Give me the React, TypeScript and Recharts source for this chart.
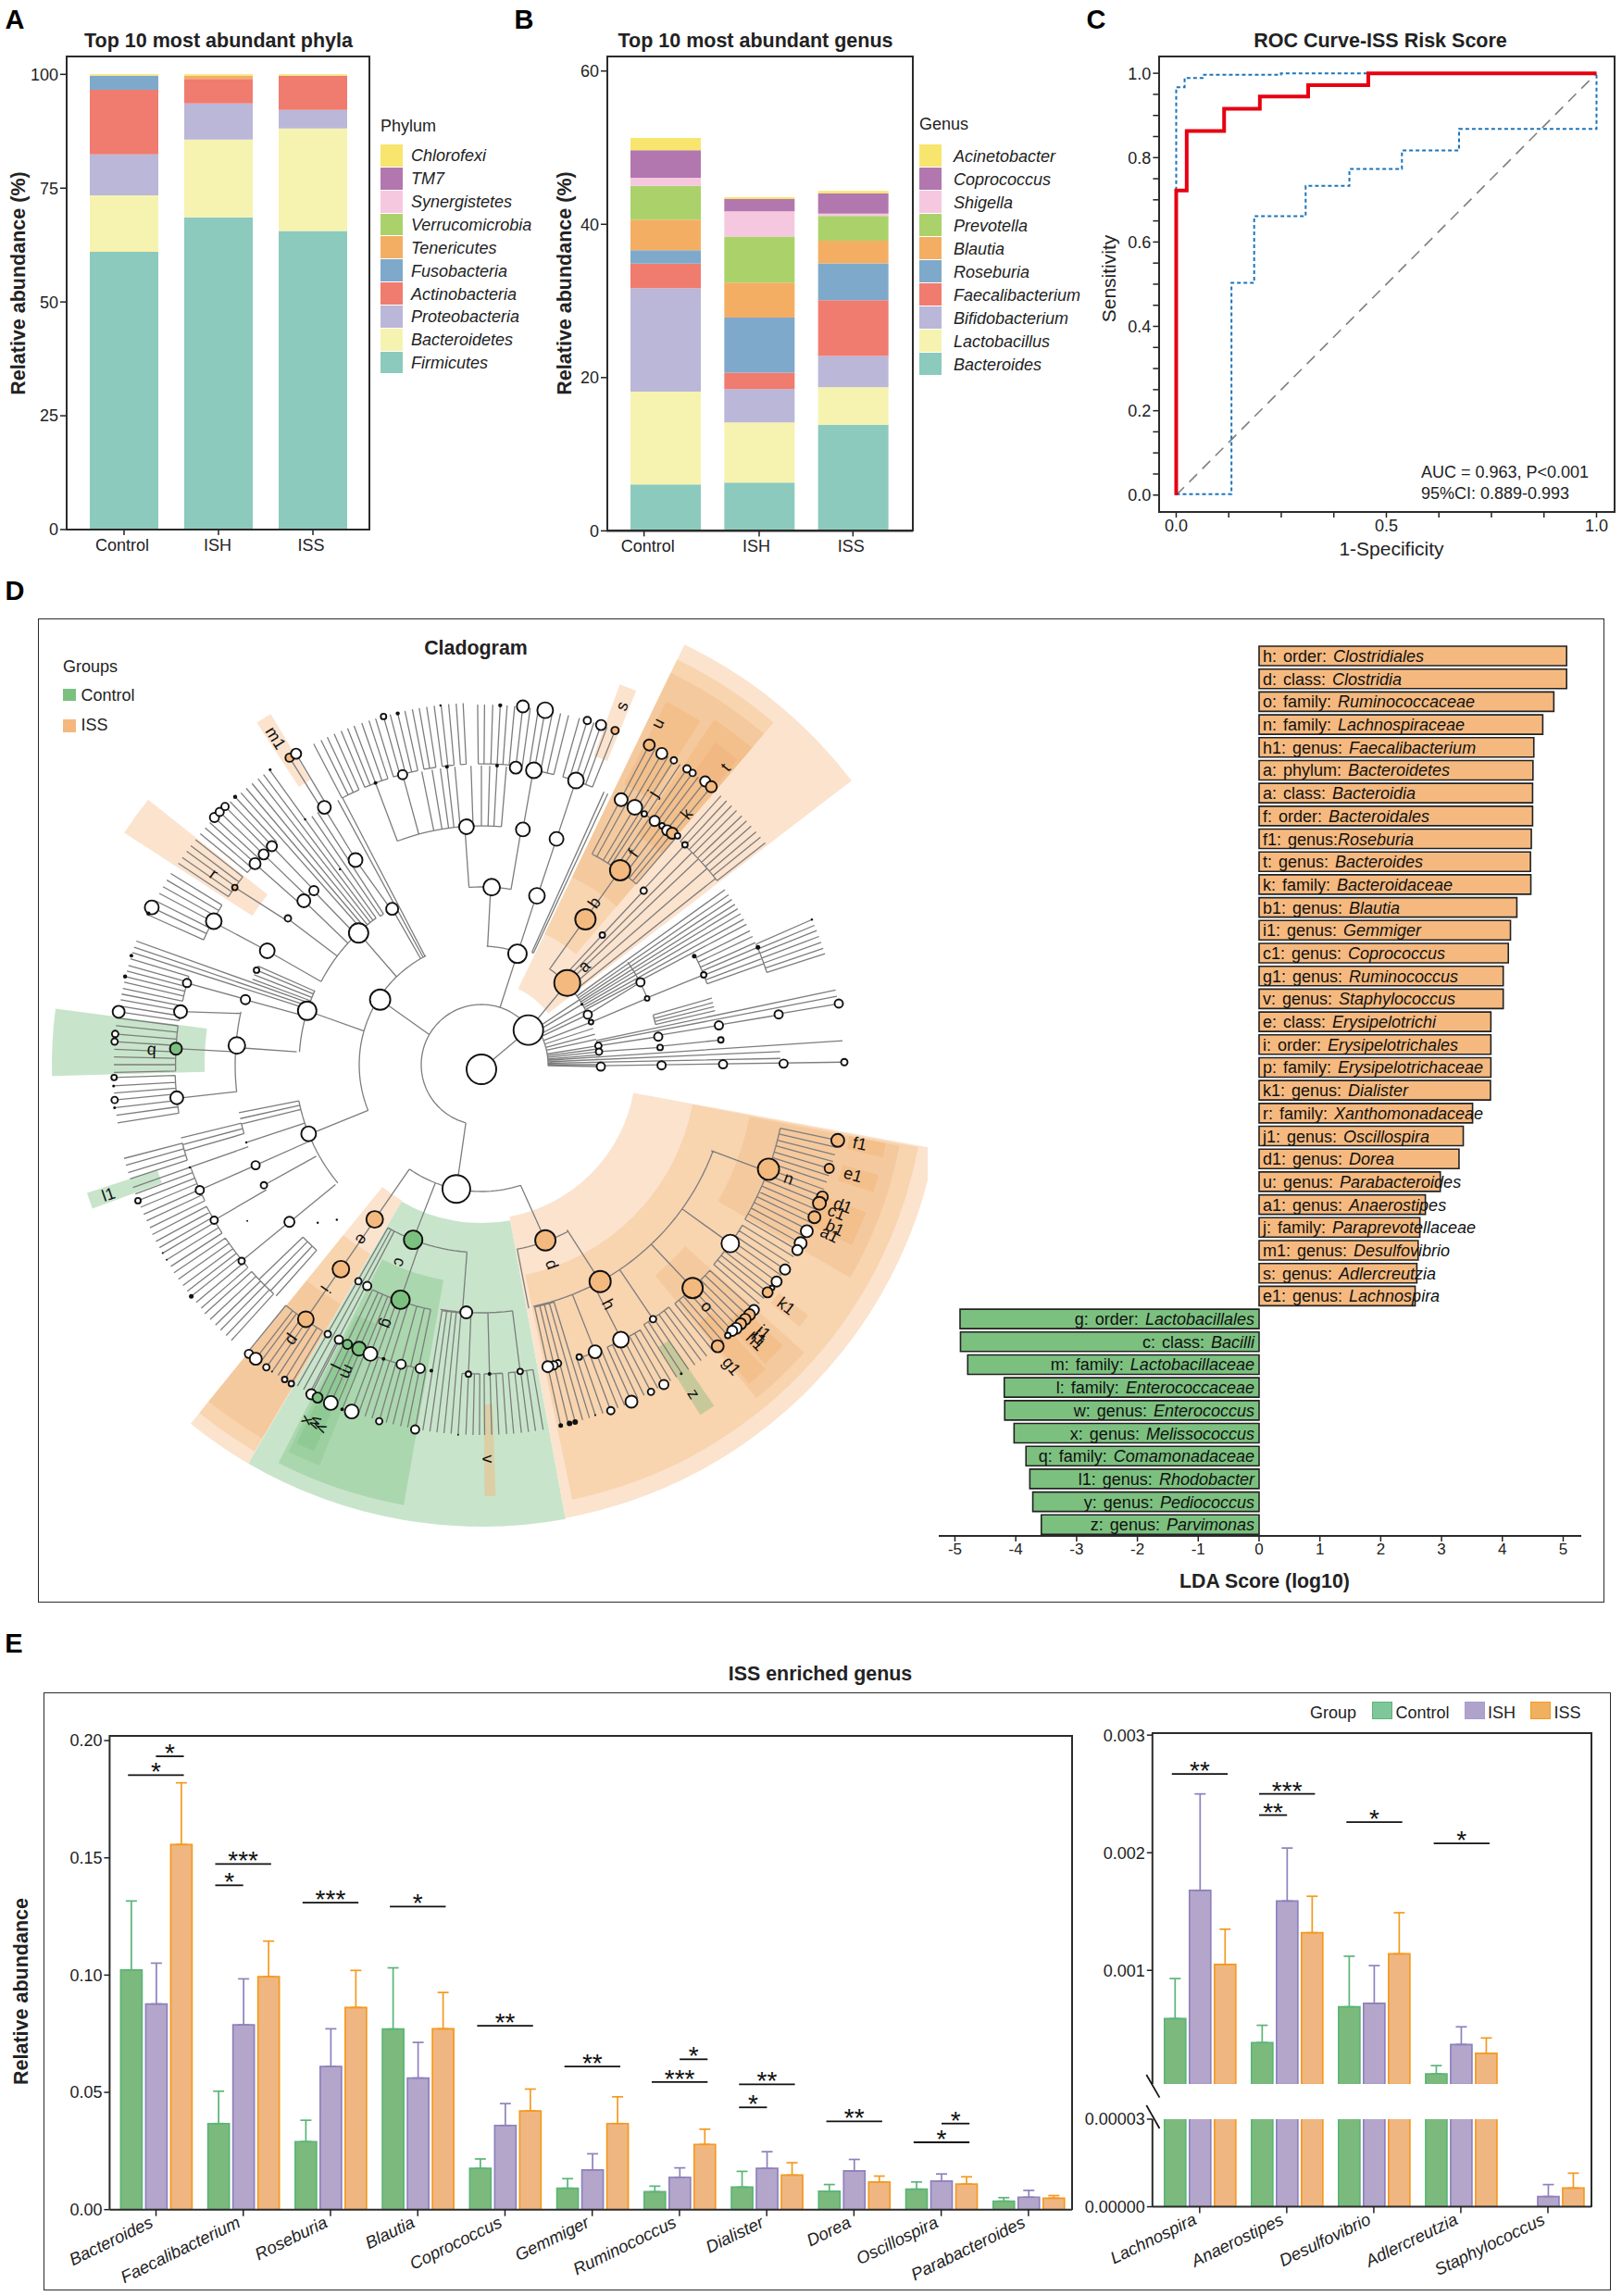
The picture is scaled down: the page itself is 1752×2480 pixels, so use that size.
import {
  BarChart, Bar, XAxis, YAxis, LineChart, Line, ComposedChart, Scatter, PieChart, Pie, Cell,
  ErrorBar, ReferenceLine,
} from 'recharts';

const FONT = '"Liberation Sans", Arial, sans-serif';
const INK = '#222';

// ---- A: phyla
const groups = ['Control', 'ISH', 'ISS'];
const phylaNames = ['Chlorofexi', 'TM7', 'Synergistetes', 'Verrucomicrobia', 'Tenericutes', 'Fusobacteria', 'Actinobacteria', 'Proteobacteria', 'Bacteroidetes', 'Firmicutes'];
const stackColors = ['#F7E56E', '#B277AE', '#F5C8DF', '#ABD26A', '#F4AE63', '#7FA9CB', '#EF7C6F', '#BAB7D8', '#F6F3B0', '#8CCABD'];
const phylaValues = [
  [0.3, 0.3, 0.3], [0, 0, 0], [0, 0, 0], [0, 0, 0], [0, 0.7, 0], [3.1, 0, 0],
  [14.2, 5.4, 7.5], [9, 7.9, 4.1], [12.4, 17.1, 22.5], [61, 68.6, 65.6],
];

// ---- B: genus
const genusNames = ['Acinetobacter', 'Coprococcus', 'Shigella', 'Prevotella', 'Blautia', 'Roseburia', 'Faecalibacterium', 'Bifidobacterium', 'Lactobacillus', 'Bacteroides'];
const genusValues = [
  [1.6, 0.25, 0.3], [3.6, 1.6, 2.65], [1.05, 3.3, 0.3], [4.4, 6, 3.25], [4, 4.55, 2.96],
  [1.75, 7.2, 4.8], [3.2, 2.15, 7.26], [13.5, 4.35, 4.1], [12.1, 7.84, 4.87], [6.07, 6.3, 13.86],
];

// ---- C: ROC
const rocCurve = [[0, 0], [0, 0.722], [0.025, 0.722], [0.025, 0.863], [0.114, 0.863], [0.114, 0.916], [0.199, 0.916], [0.199, 0.945], [0.314, 0.945], [0.314, 0.972], [0.457, 0.972], [0.457, 1], [1, 1]];
const rocUpper = [[0, 0], [0, 0.967], [0.02, 0.967], [0.02, 0.989], [0.063, 0.989], [0.063, 0.9965], [0.249, 0.9965], [0.249, 1], [1, 1]];
const rocLower = [[0, 0.002], [0.1315, 0.002], [0.1315, 0.503], [0.1855, 0.503], [0.1855, 0.661], [0.308, 0.661], [0.308, 0.733], [0.412, 0.733], [0.412, 0.773], [0.537, 0.773], [0.537, 0.817], [0.673, 0.817], [0.673, 0.868], [1, 0.868], [1, 1]];
const rocChance = [[0, 0], [1, 1]];
const rocTicksX = [0, 0.125, 0.25, 0.375, 0.5, 0.625, 0.75, 0.875, 1];
const rocTicksY = [0, 0.05, 0.1, 0.15, 0.2, 0.25, 0.3, 0.35, 0.4, 0.45, 0.5, 0.55, 0.6, 0.65, 0.7, 0.75, 0.8, 0.85, 0.9, 0.95, 1];

// ---- D: LDA
const ldaPrefix = ['h: order:', 'd: class:', 'o: family:', 'n: family:', 'h1: genus:', 'a: phylum:', 'a: class:', 'f: order:', 'f1: genus:', 't: genus:', 'k: family:', 'b1: genus:', 'i1: genus:', 'c1: genus:', 'g1: genus:', 'v: genus:', 'e: class:', 'i: order:', 'p: family:', 'k1: genus:', 'r: family:', 'j1: genus:', 'd1: genus:', 'u: genus:', 'a1: genus:', 'j: family:', 'm1: genus:', 's: genus:', 'e1: genus:', 'g: order:', 'c: class:', 'm: family:', 'l: family:', 'w: genus:', 'x: genus:', 'q: family:', 'l1: genus:', 'y: genus:', 'z: genus:'];
const ldaTaxa = ['Clostridiales', 'Clostridia', 'Ruminococcaceae', 'Lachnospiraceae', 'Faecalibacterium', 'Bacteroidetes', 'Bacteroidia', 'Bacteroidales', 'Roseburia', 'Bacteroides', 'Bacteroidaceae', 'Blautia', 'Gemmiger', 'Coprococcus', 'Ruminococcus', 'Staphylococcus', 'Erysipelotrichi', 'Erysipelotrichales', 'Erysipelotrichaceae', 'Dialister', 'Xanthomonadaceae', 'Oscillospira', 'Dorea', 'Parabacteroides', 'Anaerostipes', 'Paraprevotellaceae', 'Desulfovibrio', 'Adlercreutzia', 'Lachnospira', 'Lactobacillales', 'Bacilli', 'Lactobacillaceae', 'Enterococcaceae', 'Enterococcus', 'Melissococcus', 'Comamonadaceae', 'Rhodobacter', 'Pediococcus', 'Parvimonas'];
const ldaScores = [5.056, 5.056, 4.846, 4.664, 4.517, 4.503, 4.497, 4.497, 4.476, 4.462, 4.468, 4.238, 4.133, 4.098, 4.014, 4.014, 3.811, 3.811, 3.811, 3.804, 3.51, 3.357, 3.287, 2.979, 2.734, 2.643, 2.615, 2.594, 2.566, -4.916, -4.909, -4.79, -4.189, -4.182, -4.028, -3.832, -3.769, -3.72, -3.58];
const ldaTicks = [-5, -4, -3, -2, -1, 0, 1, 2, 3, 4, 5];

// ---- D: cladogram, polar readings [angle from east, radius]
const LIGHT = '#FBE3CE';
const MID = '#F8D4AF';
const DARK = '#F5C99E';
const DEEP = '#F3BF8B';
// [startAngle, endAngle, innerRadius, outerRadius, colour]
const cladeSectors: [number, number, number, number, string][] = [
  [37.5, 64.2, 91, 504, LIGHT], [49.5, 64.2, 157, 486, MID], [49.5, 64.2, 225, 470, DARK],
  [49.5, 56, 300, 450, DEEP], [57.5, 63, 340, 440, DEEP], [50, 54, 385, 430, '#F2B884'],
  [67.5, 70, 355, 437, LIGHT], [121, 123.3, 359, 442, LIGHT], [141.5, 147, 295, 460, LIGHT],
  [172.5, 181.5, 299, 464, '#C8E5CB'], [198, 200.3, 368, 448, '#C8E5CB'],
  [231, 239.7, 170, 499, LIGHT], [231, 239.6, 237, 484, MID], [231, 239.6, 300, 468, DARK],
  [239.7, 280.5, 171, 499, '#C8E5CB'], [243, 260, 236, 483, '#ABD7AE'],
  [243.5, 248, 302, 467, '#9CD0A0'], [244, 246.6, 340, 455, '#8FCA94'], [270.4, 271.9, 367, 466, '#DCCFA5'],
  [280.5, 349.5, 167, 498, LIGHT], [281.8, 349.3, 232, 480, MID],
  [309.5, 318.3, 295, 467, DARK], [330, 349, 295, 460, DARK],
  [310, 313, 365, 450, DEEP], [313.5, 317, 385, 445, DEEP], [320.5, 322.5, 405, 445, DARK],
  [334, 339, 395, 445, DEEP], [342, 344.5, 405, 445, DEEP], [347, 349, 405, 445, DEEP],
  [302, 304.3, 360, 446, '#C8C99A'],
];
// [innerRadius, tipRadius, ...leaf angles]; a short arc joins the leaves at innerRadius
const cladeFans: number[][] = [
  [325, 391, 117.6, 116.3, 115.2, 114], [325, 391, 112.8, 111.7, 110.6, 109.3, 108.1],
  [325, 391, 107, 105.7, 104.6, 103.4, 102.2], [325, 391, 101, 99.9, 98.7], [325, 391, 97.5, 96.4, 95.2], [325, 391, 94, 92.9],
  [325, 389, 90.6, 89.5, 88.2, 87, 85.9, 84.7, 83.4, 82.2], [323, 389, 80.9, 79.8, 78.6, 77.3, 76],
  [323, 389, 74.2, 72.9, 71.8, 70.6, 69.6, 68.2],
  [258, 323, 110.6, 105.2, 101.5, 99.5, 97.9, 96.6, 95.1, 92, 90, 88.4, 87, 85.2],
  [132, 325, 117.5, 118.5], [133, 323, 65, 65.8], [194, 325, 123, 124.3],
  [195, 392, 125.7, 126.9, 128, 129.2, 130.4, 131.5],
  [327, 393, 140.6, 139.4, 138.3, 137.2, 136, 134.8, 133.7, 132.6],
  [328, 393, 146.4, 145.3, 144.1, 143, 141.8],
  [329, 394, 155.8, 154.5, 153.3, 152, 150.8, 149.6, 148.4],
  [261, 327, 138.4, 136, 133.8],
  [197, 396, 160.3, 161.3, 162.2], [197, 264, 156.2, 157.2, 158.4, 159.5],
  [330, 396, 163.2, 164.3, 165.2, 166.1, 167, 168], [330, 396, 168.9, 169.8, 170.8, 171.7],
  [330.4, 397, 172.7, 173.9, 175.2, 176.4, 177.6, 178.8, 180, 181.2],
  [331, 398, 182, 183.3, 184.4, 185.5, 186.7, 187.9, 189.1],
  [201, 267, 191.2, 192.6, 193.9], [267, 334, 193.7, 195, 196.2], [334, 399, 194.7, 195.8, 197, 198],
  [333, 399, 199.4, 200.5, 201.6, 202.7, 203.9, 205, 206.2],
  [334, 400, 207.3, 208.5, 209.6, 210.6, 211.8, 213],
  [334, 401, 214.1, 215.3, 216.5, 217.6, 218.6, 219.8, 221],
  [334, 402, 222, 223.2, 224.4, 225.5, 226.7, 227.8], [268, 334, 224, 225.5, 227, 228.4],
  [335, 401, 230.9, 232.5, 233.4, 234.6, 235.7, 236.8, 238, 239.2],
  [203, 400, 240.2, 241.3, 242.4],
  [270, 335, 244.2, 245.6, 246.7, 248, 249, 250.3, 251.6, 253, 255, 256.8, 258.3],
  [335, 400, 242.7, 243.8, 245, 246, 247, 248, 249.5, 250.6, 251.7, 252.8, 254, 255.1, 256.2, 257.4, 258.5, 259.7],
  [269, 400, 260.9, 262, 263.1, 264.2, 265.3],
  [334, 400, 266.4, 267.6, 268.7, 269.7], [334, 400, 270.5, 271.6, 272.7, 273.9], [334, 400, 275, 276.2, 277.3, 278.4, 279.6],
  [268, 399, 282.4, 283.6, 284.7, 285.9, 287], [334, 399, 288, 289.2, 290.5, 291.7, 292.8],
  [334, 398, 294, 295.1, 296.2, 297.4, 298.6, 299.7, 300.9], [331, 398, 302, 303, 304.2, 305.4, 306.6, 307.7],
  [332, 397, 309, 310, 311.1, 312.3, 313.3, 314.4, 315.5, 316.7, 318],
  [331, 396, 319.3, 320.4, 321.5, 322.5, 323.7, 324.9, 326, 327.2, 328.4],
  [330, 394, 329.6, 330.8, 332, 333.2, 334.4, 335.4, 336.6, 337.8, 338.9, 340, 341.2, 342.3, 343.4, 344.6, 345.7, 346.9, 348],
  [257, 323, 62.3, 61, 59.2, 57.9, 57, 55.7, 54.6, 53, 51.6, 50.5, 49.4],
  [323, 389, 62.3, 61.2, 59.9, 58.8, 57.7, 56.5, 55.2, 54.1, 53, 51.7, 50.4],
  [323, 389, 38, 39.2, 40.3, 41.5, 42.6, 43.7, 44.9, 46, 47.1, 48.3], [127, 323, 38.5, 41, 43.5, 45.2],
  [72, 127, 33.5, 31, 27.5, 25.2, 21.2, 18, 15, 12.5, 9.2, 7.7, 6.3, 4.8, 3.8, 2.5, 1.2, 0, -0.9],
  [127, 324, 35.7, 34.5, 33.4, 32.3, 31.3, 30.2, 29, 27.9], [259, 324, 26.5, 25.3, 24, 23, 21.9, 20.7, 19.7],
  [324, 390, 23.7, 22.7, 21.8, 20.8, 19.8, 18.8, 17.9], [193, 259, 16.1, 15, 14, 13], [127, 391, 11.9, 10.9],
  [75, 391, 3.8], [75, 323, 2.5, 1.2],
];
// [radius, startAngle, endAngle]
const cladeArcs = [
  [65, 36, 255], [128, 67.5, 87.5], [192, 80.4, 94], [132, 117, 202], [195, 125.7, 152.6], [197, 156, 176],
  [266, 167.6, 186.4], [201, 192, 219.5], [137, 235.5, 288], [203, 240.4, 265.6], [268, 260.5, 277.2],
  [203, 280.8, 297.4], [267, 282.1, 339.5], [127, 35.7, 54.8], [193, 21, 35],
];
// [fromRadius, toRadius, fromAngle, toAngle]
const cladeStems = [
  [5, 63, 270, 36.4], [65, 126, 72, 72], [128, 192, 87, 87], [192, 258, 94, 94], [192, 258, 80.4, 80.4],
  [128, 192, 72, 72], [192, 257, 71.6, 71.6], [257, 323, 71.6, 71.6], [258, 323, 80, 80], [323, 389, 79.8, 79.8],
  [65, 130, 150, 147.3], [132, 194, 119.8, 119.8], [194, 259.5, 120.2, 121.6], [259.5, 325.6, 121.5, 121.5],
  [325.6, 391, 122, 122], [325.6, 391, 120.8, 120.8], [132, 194.5, 134, 133], [195, 262, 152.6, 152], [262, 328, 152, 152],
  [195, 262, 143, 143], [262, 328, 143.5, 144.3], [195, 261, 137.7, 137.3], [195, 261, 134, 134],
  [132, 197, 164, 162.8], [197, 264.4, 164.6, 164.6], [264.4, 330, 164.5, 164.5], [200, 265, 176, 176],
  [266, 330, 168, 170], [266, 330.4, 177, 177], [266, 331, 186.3, 186.3], [132, 201, 202, 202], [201, 267, 204, 204],
  [267, 333, 204, 204], [201, 267, 198.3, 198.3], [267, 334, 199.4, 199.4], [204, 268.6, 209, 209], [268.6, 334, 210.2, 210.2],
  [204, 268, 219.4, 219.4], [268, 334.7, 219.3, 219.3], [65, 137, 255, 258.6], [137, 203, 235.4, 235.4],
  [203, 268, 235.5, 235.5], [268, 334, 235.4, 235.4], [137, 203, 248.7, 248.7], [203, 268.5, 251, 251],
  [203, 268, 265.6, 265.6], [268, 334, 267.6, 267.6], [268, 334, 271.5, 271.5], [268, 334, 277.2, 277.2],
  [137, 202, 288, 290], [203, 268, 281, 281], [201, 267, 297.4, 298.7], [267, 333, 291.6, 291.6], [267, 333, 297, 297],
  [267, 331, 304, 304], [267, 332, 313.4, 313.4], [267, 331, 324.3, 324.3], [265, 330, 339.5, 339.5],
  [63, 128, 36.4, 43.6], [128, 193, 54.5, 54.5], [193, 258, 54.5, 54.5], [128, 191, 47, 47], [191, 257, 47, 47], [257, 323, 47.2, 47.2],
  [127, 193.5, 25.2, 27.4], [127, 192.8, 21.2, 21.8], [192.8, 259, 22, 22], [259, 324.5, 23, 23],
  [128, 193.4, 9.2, 9], [193.4, 260, 9.4, 9.4], [260, 325.6, 9.5, 9.5], [325.6, 391.6, 9.7, 9.7],
  [127.8, 193.9, 6.3, 5.5], [193.9, 260, 5.9, 5.9], [129, 392, -0.5, 0.4],
];
// [radius, angle, size, kind] kind: 0 plain, 1 ISS, 2 Control, 3 solid dot
const cladeNodes = [
  [5, 270, 16, 0], [63, 36.4, 16, 0], [130, 147.3, 11, 0], [126, 72, 10, 0], [137, 258.6, 15, 0], [128, 43.6, 14, 1],
  [192, 86.7, 9, 0], [192, 71.8, 8.5, 0], [197, 162.8, 10, 0], [194.5, 133, 10.5, 0], [262, 152, 8, 0], [257.5, 93.6, 8, 0],
  [258, 80, 7.5, 0], [257, 71.6, 7.5, 0], [193, 54.4, 11, 1], [258, 54.5, 11, 1], [194, 119.8, 6.5, 0], [259.5, 121.6, 7.5, 0],
  [325.6, 121.4, 7, 0], [391, 122, 4.5, 1], [391, 120.8, 5.5, 0], [261, 137.3, 7, 0], [261, 133.9, 5, 0], [262, 142.9, 3.5, 0],
  [328, 151.8, 8.5, 0], [394.5, 154.5, 7.5, 0], [328, 144.3, 3, 1], [327, 138.4, 6, 0], [327, 136, 5.5, 0], [327, 133.8, 5.5, 0],
  [393, 137.2, 5, 0], [393, 136, 4.5, 0], [393, 134.8, 4, 0], [324.6, 105.2, 5, 0], [390.7, 105.7, 3, 0], [390, 103.4, 2.2, 3],
  [323, 83.4, 6.5, 0], [323, 79.9, 8.5, 0], [323.5, 71.6, 8.5, 0], [389.6, 83.4, 6.5, 0], [389, 79.8, 8.5, 0], [389, 72.9, 4, 0],
  [389, 70.6, 5.5, 0], [388.7, 68.2, 4, 1], [388.7, 87, 2.2, 3], [323.4, 87, 2, 3], [324, 96.6, 2, 3], [325, 110.6, 2, 3],
  [390.5, 96.5, 1.2, 3], [392, 125.6, 1.5, 3], [326.4, 125.7, 1.2, 3], [260.6, 125.9, 1.2, 3], [393, 132.6, 2.2, 3], [395, 155.6, 2.2, 3],
  [330, 164.5, 4.5, 0], [396.5, 166.1, 2.2, 3], [396, 162.7, 2, 3], [264.4, 164.6, 5, 0], [263.5, 157.2, 3, 0],
  [330, 170, 7, 0], [396, 171.7, 6.5, 0], [265, 175.5, 9, 0], [330.4, 177, 6.5, 2], [397, 175.2, 3.5, 0], [397, 176.4, 3.5, 0],
  [397, 182, 3, 0], [398, 183.3, 1.5, 3], [398, 185.5, 3.5, 0], [399, 186.7, 1.5, 3], [331, 186.2, 7, 0], [201, 201.8, 8, 0],
  [267, 204, 4.5, 0], [267.5, 198.3, 1.2, 3], [333, 204, 4.5, 0], [334, 199.4, 1.2, 3], [399, 201.6, 3, 0], [268.6, 209, 3.5, 0],
  [334, 210.2, 4, 0], [304, 213.7, 1, 3], [268, 219.3, 5.5, 0], [245.8, 224, 1.2, 3], [229, 227, 1.2, 3], [334.7, 219.3, 3.5, 0],
  [400, 210.6, 1, 3], [400, 211.8, 1, 3], [401, 218.6, 2.5, 3],
  [203, 235.4, 9, 1], [268, 235.5, 9, 1], [334, 235.4, 8.5, 1], [400.8, 231.2, 4.5, 0], [400.4, 232.5, 6.5, 0], [401, 234.6, 3.5, 0],
  [401.4, 235.7, 1, 3], [401, 238, 3, 0], [401, 239.2, 3, 0], [203, 248.7, 10, 2], [268.5, 251, 10, 2], [268, 266.5, 6.5, 0],
  [269, 240.4, 3.5, 0], [269, 242.7, 4.5, 0], [335, 240.3, 3.5, 0], [334.6, 242.6, 4.5, 0], [335, 244.4, 5, 2], [334, 246.7, 7.5, 2],
  [334.6, 249, 7.5, 0], [335, 251.6, 2, 3], [335, 255, 5, 0], [334.7, 258.6, 5, 0], [335, 260.7, 2, 3], [334.6, 267.6, 3, 0],
  [334, 271.5, 2, 3], [334, 277.2, 3, 0], [400.6, 242.7, 5.5, 0], [400.8, 243.8, 5.5, 2], [400, 246, 7.5, 0], [401.5, 248, 2, 3],
  [400, 249.5, 7.5, 0], [400.6, 254, 3.5, 0], [400.5, 259.7, 4.5, 0], [400.6, 266.4, 1, 3],
  [202, 290, 11, 1], [267, 298.7, 11.5, 1], [333, 296.9, 8.5, 0], [333.5, 291.6, 7, 0], [333, 288.5, 3, 0], [333, 284.4, 3.5, 0],
  [334, 283.5, 4.5, 0], [334, 282.4, 6, 0], [398.4, 294, 6.5, 0], [399, 290.5, 4, 0], [398, 288, 1, 3], [399, 284.7, 3, 3],
  [399, 283.8, 3, 3], [399, 282.4, 2.5, 3], [330, 340, 11.5, 1], [332, 313.4, 11, 1], [331, 324.3, 9.5, 0], [331.5, 304, 3.5, 0],
  [393.5, 348, 7, 1], [392, 343.4, 5, 1], [395, 338.8, 6, 1], [394.6, 337.7, 7, 1], [395.6, 335.4, 6.5, 1], [394.8, 332.9, 6.5, 0],
  [395, 330.8, 6.5, 0], [395.7, 329.6, 5.5, 0], [395.6, 326, 5.5, 0], [395.6, 323.7, 5.5, 0], [395.8, 322.5, 2.5, 0], [395, 321.5, 5.5, 1],
  [396, 318, 5.5, 0], [396, 317, 6, 1], [396, 316, 6, 1], [396, 315, 6, 1], [396, 314, 6, 0], [395, 313.3, 5.5, 0], [395.4, 312.3, 3, 0],
  [397, 310, 6.5, 1], [397.4, 302.9, 1.5, 3], [397.7, 299.7, 5, 0], [398, 297.4, 3.5, 0],
  [323.6, 62.2, 7, 0], [323.6, 59.2, 8, 0], [323, 57, 3, 0], [390, 62.3, 6, 1], [388.5, 59.9, 6, 0], [389, 57.7, 3.5, 0], [389, 55.2, 4, 0],
  [389, 54.1, 3.5, 0], [390, 51.7, 5.5, 0], [389.6, 50.4, 6, 1], [323, 54.6, 5.5, 0], [323.4, 52.9, 3, 0], [323, 51.6, 5.5, 0],
  [324, 50.5, 6, 1], [325.5, 49.4, 3, 0], [323.6, 47.2, 3, 0], [257, 47, 3.5, 0], [191.5, 47, 3, 0],
  [193.5, 27.4, 4.5, 0], [192.8, 21.8, 2.5, 0], [127, 25.2, 4.5, 0], [127, 21.2, 2.5, 0], [126.6, 31, 1.5, 3], [258, 27, 2.5, 3],
  [259, 22, 3, 0], [324.5, 23, 2.5, 3], [389.8, 23.7, 1.2, 3], [193.4, 9, 4.5, 0], [193.9, 5.5, 3, 0], [129, -0.9, 4.5, 0],
  [194.6, -0.2, 4.5, 0], [261, 0.1, 4.5, 0], [326.4, 0.2, 4.5, 0], [392, 0.4, 3.5, 0], [128, 9.2, 3.5, 0], [127.8, 6.3, 3.5, 0],
  [260, 9.4, 4.5, 0], [260, 5.9, 3, 0], [325.6, 9.6, 4.5, 0], [391.6, 9.7, 4.5, 0],
];
// [text, radius, angle, rotation]
const cladeLabels: [string, number, number, number][] = [
  ['a', 153.7, 43.8, -44], ['b', 213.4, 55.1, -55], ['f', 281, 54.3, -54], ['j', 346.6, 57.7, -58], ['k', 350, 50.7, -51],
  ['u', 415, 62.7, -63], ['t', 415.6, 50.6, -51], ['s', 416, 68.6, -69], ['m1', 417, 122.2, 58], ['r', 355, 144.5, 36],
  ['q', 356.6, 177.3, 3], ['l1', 426.6, 199.2, -19], ['e', 229, 235.6, 125], ['i', 295.4, 235.2, 125], ['p', 361, 235.6, 125],
  ['c', 231, 247.6, 112], ['g', 297.8, 250, 110], ['m', 362, 246.4, 114], ['l', 362, 244.2, 116], ['w', 426, 245.2, 115],
  ['x', 428, 244, 116], ['y', 429, 246.4, 114], ['v', 426, 271, 89], ['d', 228.7, 289.4, 71], ['h', 293, 297.9, 62],
  ['o', 357, 313, 47], ['n', 353.9, 339.7, 20], ['z', 423, 302.8, 57], ['f1', 417.5, 348.2, 12], ['e1', 418.6, 343.5, 16],
  ['d1', 419, 338.7, 21], ['c1', 415.6, 337.4, 22], ['b1', 420.6, 335.2, 25], ['a1', 418.5, 334, 26], ['k1', 420, 321.6, 38],
  ['j1', 420, 316.5, 43], ['i1', 421, 315.4, 45], ['h1', 420.7, 314.7, 45], ['g1', 423, 309.7, 50],
];

// ---- E: ISS enriched genus
const mainGenus = ['Bacteroides', 'Faecalibacterium', 'Roseburia', 'Blautia', 'Coprococcus', 'Gemmiger', 'Ruminococcus', 'Dialister', 'Dorea', 'Oscillospira', 'Parabacteroides'];
const mainControl = [0.1022, 0.0367, 0.029, 0.077, 0.0176, 0.0091, 0.0076, 0.0096, 0.0078, 0.0087, 0.0036];
const mainControlTop = [0.1316, 0.0505, 0.0381, 0.1031, 0.0216, 0.0132, 0.01, 0.0163, 0.0107, 0.0118, 0.0051];
const mainISH = [0.0877, 0.0788, 0.061, 0.0561, 0.0359, 0.0169, 0.0138, 0.0176, 0.0165, 0.0122, 0.0053];
const mainISHTop = [0.1051, 0.0984, 0.0771, 0.0713, 0.0452, 0.0238, 0.0178, 0.0247, 0.0214, 0.0152, 0.0082];
const mainISS = [0.1557, 0.0993, 0.0862, 0.0771, 0.0421, 0.0367, 0.0278, 0.0147, 0.0118, 0.0109, 0.0049];
const mainISSTop = [0.182, 0.1145, 0.102, 0.0926, 0.0514, 0.0481, 0.0343, 0.02, 0.0143, 0.014, 0.006];
// [genus index, from bar, to bar, height, stars]; bars are -1 Control, 0 ISH, 1 ISS
const mainSig: [number, number, number, number, string][] = [
  [0, 0, 1, 0.1933, '*'], [0, -1, 1, 0.1853, '*'], [1, -1, 1, 0.1474, '***'], [1, -1, 0, 0.1383, '*'],
  [2, -1, 1, 0.1309, '***'], [3, -1, 1, 0.1292, '*'], [4, -1, 1, 0.0784, '**'], [5, -1, 1, 0.061, '**'],
  [6, -1, 1, 0.0544, '***'], [6, 0, 1, 0.0641, '*'], [7, -1, 1, 0.0534, '**'], [7, -1, 0, 0.0436, '*'],
  [8, -1, 1, 0.0376, '**'], [9, -1, 1, 0.0287, '*'], [9, 0, 1, 0.0367, '*'],
];
const rareGenus = ['Lachnospira', 'Anaerostipes', 'Desulfovibrio', 'Adlercreutzia', 'Staphylococcus'];
const rareControl = [0.00059, 0.000386, 0.00069, 0.00012, null];
const rareControlTop = [0.00093, 0.000533, 0.00112, 0.00019, null];
const rareISH = [0.00168, 0.00159, 0.00072, 0.00037, 0.0000035];
const rareISHTop = [0.0025, 0.00204, 0.00104, 0.00052, 0.0000076];
const rareISS = [0.00105, 0.00132, 0.00114, 0.000295, 0.0000064];
const rareISSTop = [0.00135, 0.00163, 0.00149, 0.000425, 0.0000115];
const rareSig: [number, number, number, number, string][] = [
  [0, -1, 1, 0.00267, '**'], [1, -1, 1, 0.0025, '***'], [1, -1, 0, 0.00232, '**'], [2, -1, 1, 0.00226, '*'], [3, -1, 1, 0.00208, '*'],
];
const BREAK = 0.00003;
const SIG_SPREAD = 0.32;
const barGroups = [
  { key: 'control', fill: '#7BBA7C', stroke: '#5BB578' },
  { key: 'ish', fill: '#B3A6CA', stroke: '#8F81BD' },
  { key: 'iss', fill: '#EFB682', stroke: '#F39A20' },
];

const stackRows = (names: string[], values: number[][]) =>
  groups.map((group, g) => {
    const row: Record<string, number | string> = { group };
    names.forEach((name, n) => { row[name] = values[n][g]; });
    return row;
  });

const toXY = (r: number, angle: number) => ({
  x: r * Math.cos((angle * Math.PI) / 180),
  y: r * Math.sin((angle * Math.PI) / 180),
});

// every branch goes into one line series, with empty rows between the pieces
const branchRows = () => {
  const rows: { x: number; y: number | null }[] = [];
  const add = (points: { x: number; y: number }[]) => {
    rows.push(...points);
    rows.push({ x: points[points.length - 1].x, y: null });
  };
  const arc = (r: number, from: number, to: number) => {
    const steps = Math.max(1, Math.ceil(Math.abs(to - from) / 2));
    add(Array.from({ length: steps + 1 }, (_, i) => toXY(r, from + ((to - from) * i) / steps)));
  };
  cladeArcs.forEach(([r, from, to]) => arc(r, from, to));
  cladeStems.forEach(([r0, r1, a0, a1]) => add([toXY(r0, a0), toXY(r1, a1)]));
  cladeFans.forEach(([r0, r1, ...angles]) => {
    if (angles.length > 1) arc(r0, angles[0], angles[angles.length - 1]);
    angles.forEach((a) => add([toXY(r0, a), toXY(r1, a)]));
  });
  return rows;
};

const Txt = ({ x, y, children, size = 18, bold, italic, rotate = 0, anchor = 'center', color = INK }: any) => (
  <div
    style={{
      position: 'absolute', left: x, top: y, whiteSpace: 'nowrap', fontFamily: FONT, fontSize: size, color,
      fontWeight: bold ? 700 : 400, fontStyle: italic ? 'italic' : 'normal', lineHeight: 1,
      transform: `translate(${anchor === 'center' ? '-50%' : '0'}, -50%) rotate(${rotate}deg)`,
    }}
  >
    {children}
  </div>
);

const Frame = ({ x0, y0, x1, y1, w = 2, sides = 'trbl', color = '#2b2b2b' }: any) => (
  <div
    style={{
      position: 'absolute', left: x0, top: y0, width: x1 - x0, height: y1 - y0, boxSizing: 'border-box',
      borderTop: sides.includes('t') ? `${w}px solid ${color}` : undefined,
      borderRight: sides.includes('r') ? `${w}px solid ${color}` : undefined,
      borderBottom: sides.includes('b') ? `${w}px solid ${color}` : undefined,
      borderLeft: sides.includes('l') ? `${w}px solid ${color}` : undefined,
    }}
  />
);

const At = ({ x, y, children }: any) => <div style={{ position: 'absolute', left: x, top: y }}>{children}</div>;

const Swatches = ({ x, y, textX, title, titleY, names, colors, step }: any) => (
  <>
    <Txt x={x} y={titleY} anchor="left">{title}</Txt>
    {names.map((name: string, i: number) => (
      <div key={name}>
        <div style={{ position: 'absolute', left: x, top: y + i * step, width: 24, height: step - 1, background: colors[i] }} />
        <Txt x={textX} y={y + i * step + step / 2} anchor="left" italic>{name}</Txt>
      </div>
    ))}
  </>
);

const StackPanel = ({ x, y, width, height, axisW, names, values, domain, ticks, shifts, barSize, padding, top, right }: any) => (
  <At x={x} y={y}>
    <BarChart width={width} height={height} data={stackRows(names, values)} margin={{ top, right, bottom: 0, left: 0 }} barCategoryGap={0}>
      <XAxis
        dataKey="group" height={40} padding={padding} interval={0} tickLine={false} axisLine={{ stroke: '#2b2b2b', strokeWidth: 2 }}
        tick={({ x: tx, y: ty, payload, index }: any) => (
          <g>
            <line x1={tx + shifts[index][0]} x2={tx + shifts[index][0]} y1={ty - 9} y2={ty - 2} stroke={INK} strokeWidth={1.5} />
            <text x={tx + shifts[index][1]} y={ty + 15} textAnchor="middle" fontFamily={FONT} fontSize={18} fill={INK}>{payload.value}</text>
          </g>
        )}
      />
      <YAxis
        width={axisW} type="number" domain={domain} ticks={ticks} interval={0} allowDataOverflow tickSize={6}
        tick={{ fontFamily: FONT, fontSize: 18, fill: INK }} tickLine={{ stroke: INK, strokeWidth: 1.5 }} axisLine={false}
      />
      {[...names].reverse().map((name: string) => (
        <Bar key={name} dataKey={name} stackId="s" barSize={barSize} isAnimationActive={false} fill={stackColors[names.indexOf(name)]} />
      ))}
    </BarChart>
  </At>
);

const RocPanel = () => (
  <At x={1190} y={50}>
    <LineChart width={560} height={543} margin={{ top: 10, right: 6, bottom: 0, left: 0 }}>
      <XAxis
        dataKey="x" type="number" domain={[-0.042, 1.043]} ticks={rocTicksX} interval={0} height={40} tickSize={6} allowDataOverflow
        tickFormatter={(v: number) => (v * 2 === Math.round(v * 2) ? v.toFixed(1) : '')}
        tick={{ fontFamily: FONT, fontSize: 18, fill: INK }} axisLine={false} tickLine={{ stroke: INK, strokeWidth: 1.5 }}
      />
      <YAxis
        dataKey="y" type="number" width={61.4} domain={[-0.04, 1.042]} ticks={rocTicksY} interval={0} tickSize={6} allowDataOverflow
        tickFormatter={(v: number) => (Math.round(v * 100) % 20 === 0 ? v.toFixed(1) : '')}
        tick={{ fontFamily: FONT, fontSize: 18, fill: INK }} axisLine={false} tickLine={{ stroke: INK, strokeWidth: 1.5 }}
      />
      <Line data={rocChance.map(([x, y]) => ({ x, y }))} dataKey="y" dot={false} stroke="#808080" strokeWidth={1.6} strokeDasharray="12 8" isAnimationActive={false} />
      <Line data={rocUpper.map(([x, y]) => ({ x, y }))} dataKey="y" dot={false} stroke="#1B75BC" strokeWidth={2} strokeDasharray="4 3" isAnimationActive={false} />
      <Line data={rocLower.map(([x, y]) => ({ x, y }))} dataKey="y" dot={false} stroke="#1B75BC" strokeWidth={2} strokeDasharray="4 3" isAnimationActive={false} />
      <Line data={rocCurve.map(([x, y]) => ({ x, y }))} dataKey="y" dot={false} stroke="#E60012" strokeWidth={4} isAnimationActive={false} />
    </LineChart>
  </At>
);

const CLADE_W = 960;
const CLADE_H = 1060;
const CLADE_CX = 478;
const CLADE_CY = 481;

const Cladogram = () => {
  const nodeRows = cladeNodes.map(([r, a, size, kind]) => ({ ...toXY(r, a), size, kind }));
  const labelRows = cladeLabels.map(([text, r, a, rot]) => ({ ...toXY(r, a), text, rot }));
  return (
    <>
      <At x={42} y={669}>
        <PieChart width={CLADE_W} height={CLADE_H} margin={{ top: 0, right: 0, bottom: 0, left: 0 }}>
          {cladeSectors.map(([a0, a1, r0, r1, color], i) => (
            <Pie
              key={i} data={[{ v: 1 }]} dataKey="v" cx={CLADE_CX} cy={CLADE_CY} startAngle={a0} endAngle={a1}
              innerRadius={r0} outerRadius={r1} fill={color} stroke="none" isAnimationActive={false}
            />
          ))}
        </PieChart>
      </At>
      <At x={42} y={669}>
        <ComposedChart width={CLADE_W} height={CLADE_H} margin={{ top: 0, right: 0, bottom: 0, left: 0 }}>
          <XAxis dataKey="x" type="number" domain={[-CLADE_CX, CLADE_W - CLADE_CX]} hide allowDataOverflow />
          <YAxis dataKey="y" type="number" domain={[CLADE_CY - CLADE_H, CLADE_CY]} hide allowDataOverflow />
          <Line data={branchRows()} dataKey="y" dot={false} stroke="#7d7d7d" strokeWidth={1.3} connectNulls={false} isAnimationActive={false} />
          <Scatter
            data={nodeRows} isAnimationActive={false}
            shape={(p: any) => {
              const { size, kind } = p.payload;
              const fill = kind === 1 ? '#F4B97F' : kind === 2 ? '#7CC07F' : kind === 3 ? '#111' : '#fff';
              return <circle cx={p.cx} cy={p.cy} r={size} fill={fill} stroke="#111" strokeWidth={kind === 3 ? 0 : 1.9} />;
            }}
          />
          <Scatter
            data={labelRows} isAnimationActive={false}
            shape={(p: any) => (
              <text
                x={p.cx} y={p.cy} textAnchor="middle" dominantBaseline="central" fontFamily={FONT} fontSize={18} fill="#111"
                transform={`rotate(${p.payload.rot} ${p.cx} ${p.cy})`}
              >
                {p.payload.text}
              </text>
            )}
          />
        </ComposedChart>
      </At>
    </>
  );
};

const ldaRows = ldaScores.map((score, i) => ({ name: `${i}`, score, prefix: ldaPrefix[i], taxon: ldaTaxa[i] }));

const LdaPanel = () => (
  <At x={1014} y={696}>
    <BarChart width={694} height={998} data={ldaRows} layout="vertical" margin={{ top: 0, right: 0, bottom: 0, left: 0 }} barCategoryGap={2}>
      <XAxis
        type="number" dataKey="score" domain={[-5.266, 5.297]} ticks={ldaTicks} interval={0} height={35} tickSize={6} allowDataOverflow
        tick={{ fontFamily: FONT, fontSize: 17, fill: INK }} axisLine={{ stroke: '#2b2b2b', strokeWidth: 2 }} tickLine={{ stroke: INK, strokeWidth: 1.5 }}
      />
      <YAxis type="category" dataKey="name" hide />
      <Bar
        dataKey="score" stroke="#222" strokeWidth={1.6} isAnimationActive={false}
        label={(p: any) => {
          const row = ldaRows[p.index];
          const zero = row.score >= 0 ? Math.min(p.x, p.x + p.width) : Math.max(p.x, p.x + p.width);
          const sep = row.prefix === 'f1: genus:' ? '' : ' ';
          return (
            <text
              x={row.score >= 0 ? zero + 4 : zero - 5} y={p.y + p.height / 2 + 0.5} dominantBaseline="central"
              textAnchor={row.score >= 0 ? 'start' : 'end'} fontFamily={FONT} fontSize={18} wordSpacing={2} fill="#111"
            >
              {row.prefix}{sep}<tspan fontStyle="italic">{row.taxon}</tspan>
            </text>
          );
        }}
      >
        {ldaRows.map((row) => <Cell key={row.name} fill={row.score >= 0 ? '#F5B97F' : '#7CC07F'} />)}
      </Bar>
    </BarChart>
  </At>
);

const slantTick = ({ x, y, payload }: any) => (
  <g>
    <line x1={x} x2={x} y1={y - 8} y2={y - 1} stroke={INK} strokeWidth={1.5} />
    <text
      x={x - 2} y={y + 10} textAnchor="end" fontFamily={FONT} fontSize={18.5} fontStyle="italic" fill={INK}
      transform={`rotate(-26 ${x - 2} ${y + 10})`}
    >
      {payload.value}
    </text>
  </g>
);

const enrichedBars = () =>
  barGroups.map((g) => (
    <Bar key={g.key} dataKey={g.key} fill={g.fill} stroke={g.stroke} strokeWidth={1.7} barSize={23} isAnimationActive={false}>
      <ErrorBar dataKey={`${g.key}Err`} width={6} stroke={g.stroke} strokeWidth={1.7} direction="y" />
    </Bar>
  ));

const sigLines = (sig: [number, number, number, number, string][]) =>
  sig.map(([cat, from, to, h, stars], i) => (
    <ReferenceLine
      key={i} xAxisId="sig"
      segment={[{ x: cat + from * SIG_SPREAD, y: h }, { x: cat + to * SIG_SPREAD, y: h }]}
      stroke="#111" strokeWidth={1.8}
      label={{ value: stars, position: 'top', fontSize: 28, fill: '#111', fontFamily: FONT, dy: 11 }}
    />
  ));

// pos gives the hidden axis that places the significance lines a numeric key
const errRows = (names: string[], c: any[], cTop: any[], p: any[], pTop: any[], o: any[], oTop: any[], keep: (v: number) => boolean) =>
  names.map((name, i) => {
    const bar = (v: any) => (v != null && keep(v) ? v : null);
    const err = (v: any, top: any) => (v != null && keep(v) ? [0, top - v] : null);
    return {
      name, pos: i,
      control: c[i], ish: bar(p[i]), iss: bar(o[i]),
      controlErr: err(c[i], cTop[i]), ishErr: err(p[i], pTop[i]), issErr: err(o[i], oTop[i]),
    };
  });

const smallAxis = { tick: { fontFamily: FONT, fontSize: 18, fill: INK }, tickLine: { stroke: INK, strokeWidth: 1.5 }, tickSize: 6 };

const MainEnriched = () => (
  <At x={48} y={1864}>
    <BarChart
      width={1112} height={602.7} margin={{ top: 10, right: 2, bottom: 0, left: 0 }} barGap={4}
      data={errRows(mainGenus, mainControl, mainControlTop, mainISH, mainISHTop, mainISS, mainISSTop, () => true)}
    >
      <XAxis dataKey="name" height={80} interval={0} padding={{ left: 3, right: 0 }} tickLine={false} axisLine={{ stroke: '#2b2b2b', strokeWidth: 2 }} tick={slantTick} />
      <XAxis xAxisId="sig" dataKey="pos" type="number" domain={[-0.53, 10.495]} hide allowDataOverflow />
      <YAxis width={70.4} type="number" domain={[0, 0.2024]} ticks={[0, 0.05, 0.1, 0.15, 0.2]} interval={0} allowDataOverflow tickFormatter={(v: number) => v.toFixed(2)} axisLine={{ stroke: '#2b2b2b', strokeWidth: 2 }} {...smallAxis} />
      {enrichedBars()}
      {sigLines(mainSig)}
    </BarChart>
  </At>
);

const RareUpper = () => (
  <At x={1150} y={1861.5}>
    <BarChart
      width={571} height={389.5} margin={{ top: 10, right: 2, bottom: 0, left: 0 }} barGap={4}
      data={errRows(rareGenus, rareControl, rareControlTop, rareISH, rareISHTop, rareISS, rareISSTop, (v) => v > BREAK)}
    >
      <XAxis dataKey="name" hide padding={{ left: 4, right: 0 }} />
      <XAxis xAxisId="sig" dataKey="pos" type="number" domain={[-0.542, 4.487]} hide allowDataOverflow />
      <YAxis width={94.8} type="number" domain={[BREAK, 0.003017]} ticks={[0.001, 0.002, 0.003]} interval={0} allowDataOverflow tickFormatter={(v: number) => v.toFixed(3)} axisLine={{ stroke: '#2b2b2b', strokeWidth: 2 }} {...smallAxis} />
      {enrichedBars()}
      {sigLines(rareSig)}
    </BarChart>
  </At>
);

const RareLower = () => {
  const rows = errRows(rareGenus, rareControl, rareControlTop, rareISH, rareISHTop, rareISS, rareISSTop, () => true).map((row) =>
    // the tall bars run through this panel and their whiskers belong to the panel above
    row.pos < 4 ? { ...row, controlErr: null, ishErr: null, issErr: null } : row,
  );
  return (
    <At x={1150} y={2279}>
      <BarChart width={571} height={184.6} margin={{ top: 10, right: 2, bottom: 0, left: 0 }} barGap={4} data={rows}>
        <XAxis dataKey="name" height={80} interval={0} padding={{ left: 4, right: 0 }} tickLine={false} axisLine={{ stroke: '#2b2b2b', strokeWidth: 2 }} tick={slantTick} />
        <YAxis width={94.8} type="number" domain={[0, BREAK]} ticks={[0, BREAK]} interval={0} allowDataOverflow tickFormatter={(v: number) => v.toFixed(5)} axisLine={{ stroke: '#2b2b2b', strokeWidth: 2 }} {...smallAxis} />
        {enrichedBars()}
      </BarChart>
    </At>
  );
};

export default function App() {
  return (
    <div style={{ position: 'absolute', left: 0, top: 0, width: 1752, height: 2480, background: '#fff', overflow: 'hidden' }}>
      <Txt x={16} y={21} size={29} bold color="#000">A</Txt>
      <Txt x={566} y={21} size={29} bold color="#000">B</Txt>
      <Txt x={1184} y={21} size={29} bold color="#000">C</Txt>
      <Txt x={16} y={638} size={29} bold color="#000">D</Txt>
      <Txt x={15} y={1775} size={29} bold color="#000">E</Txt>

      <Txt x={236} y={45} size={21.5} bold>Top 10 most abundant phyla</Txt>
      <Txt x={21} y={306} size={21.5} bold rotate={-90}>Relative abundance (%)</Txt>
      <StackPanel
        x={0} y={50} width={410} height={562} axisW={71} top={10.5} right={11} names={phylaNames} values={phylaValues}
        domain={[0, 104.03]} ticks={[0, 25, 50, 75, 100]} barSize={74} padding={{ left: 12, right: 10 }}
        shifts={[[0, -2], [0, -1], [0, -2]]}
      />
      <Frame x0={71} y0={60} x1={400} y1={573} />
      <Swatches x={411} y={156} textX={444} title="Phylum" titleY={136} names={phylaNames} colors={stackColors} step={24.85} />

      <Txt x={816} y={45} size={21.5} bold>Top 10 most abundant genus</Txt>
      <Txt x={611} y={306} size={21.5} bold rotate={-90}>Relative abundance (%)</Txt>
      <StackPanel
        x={560} y={50} width={436} height={563.4} axisW={95} top={10} right={10} names={genusNames} values={genusValues}
        domain={[0, 62.02]} ticks={[0, 20, 40, 60]} barSize={76} padding={{ left: 13, right: 14 }}
        shifts={[[-23, -19], [0, -3], [0, -2]]}
      />
      <Frame x0={655} y0={60} x1={987} y1={574} />
      <Swatches x={993} y={156} textX={1030} title="Genus" titleY={134} names={genusNames} colors={stackColors} step={25} />

      <Txt x={1491} y={45} size={21.5} bold>ROC Curve-ISS Risk Score</Txt>
      <Txt x={1197} y={301} size={21} rotate={-90}>Sensitivity</Txt>
      <RocPanel />
      <Frame x0={1251} y0={60} x1={1745} y1={554} />
      <Txt x={1535} y={510} anchor="left">AUC = 0.963, P&lt;0.001</Txt>
      <Txt x={1535} y={533} anchor="left">95%CI: 0.889-0.993</Txt>
      <Txt x={1503} y={592} size={21}>1-Specificity</Txt>

      <Frame x0={41} y0={668} x1={1733} y1={1731} w={1.6} />
      <Cladogram />
      <Txt x={514} y={701} size={21.4} bold>Cladogram</Txt>
      <Txt x={68} y={720} anchor="left">Groups</Txt>
      <div style={{ position: 'absolute', left: 68, top: 744, width: 14, height: 13, background: '#7BC17E' }} />
      <Txt x={87.5} y={751} anchor="left">Control</Txt>
      <div style={{ position: 'absolute', left: 68, top: 777, width: 14, height: 14, background: '#F4B87F' }} />
      <Txt x={87.5} y={783} anchor="left">ISS</Txt>
      <LdaPanel />
      <Txt x={1366} y={1709} size={21.3} bold>LDA Score (log10)</Txt>

      <Txt x={886} y={1809} size={21.4} bold>ISS enriched genus</Txt>
      <Frame x0={47} y0={1828} x1={1740} y1={2474} w={1.6} />
      <Txt x={24} y={2151} size={21.5} bold rotate={-90}>Relative abundance</Txt>
      <MainEnriched />
      <Frame x0={118} y0={1874} x1={1159} y1={2387} sides="tr" />
      <Txt x={1415} y={1850} anchor="left">Group</Txt>
      {[['Control', 1482, '#7FC79A', '#5BB578', 1507.4], ['ISH', 1582, '#AFA3CB', '#A79BD0', 1607], ['ISS', 1653, '#F0B060', '#F39A20', 1678.6]].map(([name, x, fill, stroke, tx]: any) => (
        <div key={name}>
          <div style={{ position: 'absolute', left: x, top: 1837.6, width: 21.5, height: 19.6, boxSizing: 'border-box', background: fill, border: `1.5px solid ${stroke}` }} />
          <Txt x={tx} y={1850} anchor="left">{name}</Txt>
        </div>
      ))}
      <RareUpper />
      <RareLower />
      <Frame x0={1244} y0={1871} x1={1720} y1={2384} sides="tr" />
      <svg style={{ position: 'absolute', left: 1230, top: 2230, width: 30, height: 80 }}>
        <line x1={8.3} y1={11} x2={22.5} y2={35.7} stroke="#111" strokeWidth={1.7} />
        <line x1={8.3} y1={44} x2={22.5} y2={69} stroke="#111" strokeWidth={1.7} />
      </svg>
    </div>
  );
}
